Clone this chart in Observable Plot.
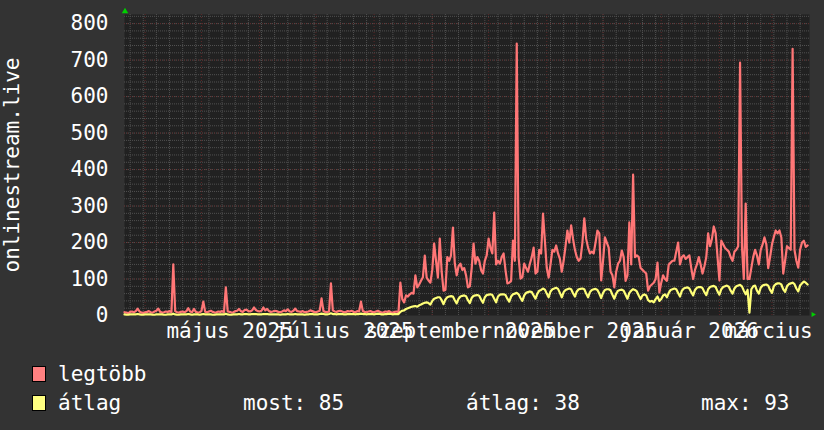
<!DOCTYPE html>
<html>
<head>
<meta charset="utf-8">
<script src="https://cdn.jsdelivr.net/npm/d3@7"></script>
<script src="https://cdn.jsdelivr.net/npm/@observablehq/plot@0.6"></script>
<style>
html, body { margin: 0; padding: 0; background: #333333; overflow: hidden; }
#chart { width: 824px; }
svg { display: block; }
</style>
</head>
<body>
<div id="chart"></div>
<script>
// ---- data (daily values, first day = startDate) ----
const startDate = "2025-03-21";
const endDate = "2026-03-21";
const seriesNames = ["legtöbb", "átlag"];
const seriesColors = ["#ff7676", "#ffff78"];
const swatchColors = ["#ff8080", "#ffff80"];

const legtobb = [
  9, 8, 6, 10, 11, 9, 12, 19, 11, 8,
  7, 9, 10, 12, 9, 8, 11, 13, 19, 10,
  8, 9, 11, 10, 12, 9, 140, 12, 9, 8,
  10, 11, 9, 12, 20, 11, 9, 18, 10, 8,
  9, 12, 38, 10, 9, 11, 13, 10, 8, 9,
  11, 10, 12, 9, 77, 11, 10, 8, 9, 12,
  13, 18, 12, 10, 15, 16, 12, 11, 14, 22,
  15, 12, 11, 13, 22, 14, 18, 12, 10, 11,
  13, 12, 10, 9, 11, 14, 12, 17, 11, 10,
  13, 19, 12, 11, 10, 12, 9, 10, 11, 14,
  12, 10, 9, 11, 13, 47, 12, 10, 9, 11,
  88, 14, 11, 10, 12, 13, 11, 9, 10, 12,
  11, 13, 10, 9, 12, 11, 38, 12, 10, 9,
  11, 12, 10, 9, 11, 13, 10, 8, 9, 11,
  10, 12, 9, 8, 10, 11, 9,
  90, 45, 36, 55, 52, 58, 62, 60, 110, 77,
  85, 95, 105, 164, 104, 96, 90, 125, 197, 150,
  104, 211, 120, 68, 70, 160, 150, 165, 241, 142,
  110, 135, 142, 125, 130, 110, 77, 80, 130, 197,
  142, 160, 150, 125, 115, 150, 165, 211, 185, 170,
  282, 140, 150, 142, 160, 170, 125, 88, 90, 95,
  205, 150, 745, 160, 101, 105, 142, 130, 120, 142,
  160, 186, 115, 120, 180, 170, 279, 205, 130, 104,
  140, 180, 175, 192, 170, 155, 120, 150, 190, 233,
  200, 247, 210, 180, 160, 150, 156, 200, 266, 210,
  186, 170, 175, 170, 200, 233, 225, 96, 150, 214,
  200, 186, 120, 110, 77, 120, 142, 150, 178, 160,
  95, 110, 255, 140, 386, 160, 165, 160, 130, 125,
  120, 115, 68, 80, 85, 90, 100, 145, 63, 90,
  110, 100, 95, 140, 145, 150, 150, 175, 200, 140,
  160, 165, 155, 160, 165, 130, 100, 125, 140, 160,
  140, 115, 135, 160, 225, 190, 210, 244, 225, 160,
  96, 205, 195, 185, 180, 175, 160, 150, 175, 180,
  190, 693, 190, 100, 307, 100, 100, 130, 160, 180,
  165, 140, 180, 195, 214, 195, 130, 160, 195, 215,
  233, 225, 233, 214, 115, 150, 190, 185, 180, 731,
  180, 150, 131, 180, 200, 205, 188, 192
];

const atlag = [
  3, 2, 2, 3, 3, 3, 3, 4, 3, 2,
  2, 3, 3, 3, 3, 2, 2, 3, 3, 3,
  3, 2, 2, 3, 3, 3, 5, 3, 2, 2,
  3, 3, 3, 3, 4, 3, 2, 3, 3, 3,
  2, 3, 4, 3, 3, 3, 3, 2, 2, 3,
  3, 3, 3, 3, 5, 3, 2, 2, 3, 3,
  3, 4, 3, 3, 4, 4, 3, 3, 4, 4,
  4, 3, 3, 3, 4, 4, 4, 3, 3, 3,
  3, 3, 3, 2, 3, 3, 3, 4, 3, 3,
  3, 4, 3, 3, 3, 3, 2, 3, 3, 4,
  4, 3, 3, 3, 4, 5, 4, 3, 3, 4,
  6, 4, 4, 3, 4, 4, 4, 3, 3, 4,
  4, 4, 4, 3, 4, 4, 5, 4, 4, 3,
  4, 4, 4, 3, 4, 5, 4, 3, 3, 4,
  4, 5, 4, 3, 4, 4, 4,
  10, 13, 14, 18, 20, 22, 24, 25, 26, 24,
  28, 30, 33, 35, 36, 34, 30, 40, 46, 48,
  50, 50, 42, 31, 44, 50, 52, 53, 52, 42,
  33, 46, 52, 54, 55, 53, 42, 34, 48, 54,
  55, 56, 54, 44, 35, 50, 56, 57, 58, 56,
  46, 36, 52, 57, 58, 58, 56, 46, 38, 52,
  58, 60, 62, 58, 48, 40, 55, 62, 64, 66,
  64, 55, 46, 60, 68, 70, 74, 71, 60, 50,
  66, 72, 74, 76, 73, 62, 50, 64, 70, 72,
  74, 72, 61, 52, 66, 72, 73, 74, 72, 60,
  50, 64, 70, 72, 73, 70, 60, 48, 62, 70,
  72, 72, 69, 57, 46, 60, 68, 70, 71, 68,
  57, 46, 62, 68, 72, 70, 66, 55, 45, 55,
  58, 55, 42, 38, 40, 36, 45, 52, 40, 45,
  55, 58, 50, 62, 70, 72, 74, 72, 62, 52,
  68, 74, 76, 77, 74, 64, 55, 70, 76, 78,
  78, 75, 64, 56, 72, 78, 80, 81, 78, 66,
  57, 72, 78, 80, 82, 79, 68, 60, 74, 80,
  82, 84, 80, 68, 58, 70, 8, 72, 80, 82,
  68, 60, 76, 82, 84, 85, 82, 70, 62, 80,
  86, 88, 88, 85, 72, 65, 80, 86, 88, 90,
  86, 74, 66, 82, 88, 93, 90, 85
];

const yTicks = [0, 100, 200, 300, 400, 500, 600, 700, 800];
const yMax = 825;
const xTickDates = ["2025-05-16", "2025-07-16", "2025-09-16", "2025-11-16", "2026-01-16", "2026-03-16"];
const xTickLabels = ["május 2025", "július 2025", "szeptember 2025", "november 2025", "január 2026", "március 2026"];
const yTitle = "onlinestream.live";
const statLabels = ["most: 85", "átlag: 38", "max: 93"];

// ---- build ----
const t0 = new Date(startDate + "T00:00:00Z");
const t1 = new Date(endDate + "T00:00:00Z");
const toRows = (arr, name) => arr.map((v, i) => ({date: d3.utcDay.offset(t0, i), value: v, series: name}));
const rowsMax = toRows(legtobb, seriesNames[0]);
const rowsAvg = toRows(atlag, seriesNames[1]);
const tickDates = xTickDates.map(s => new Date(s + "T00:00:00Z"));
const labelByTime = new Map(tickDates.map((d, i) => [+d, xTickLabels[i]]));

const FONT = "'DejaVu Sans Mono', monospace";
const rightArrow = {
  draw(ctx, size) {
    const r = Math.sqrt(size / 3);
    ctx.moveTo(r, 0);
    ctx.lineTo(-r * 0.8, -r);
    ctx.lineTo(-r * 0.8, r);
    ctx.closePath();
  }
};

const plot = Plot.plot({
  width: 824,
  height: 350,
  marginLeft: 124,
  marginRight: 15,
  marginTop: 14,
  marginBottom: 35,
  style: {background: "#333333", color: "#ffffff", fontFamily: FONT, fontSize: "21px"},
  x: {type: "utc", domain: [t0, t1]},
  y: {domain: [0, yMax]},
  marks: [
    Plot.frame({fill: "#212121", stroke: "none"}),
    Plot.gridY({ticks: d3.range(20, yMax, 20), stroke: "#505050", strokeOpacity: 1, strokeDasharray: "1,1"}),
    Plot.gridX({ticks: d3.utcMonday.range(t0, t1), stroke: "#505050", strokeOpacity: 1, strokeDasharray: "1,1"}),
    Plot.gridY({ticks: yTicks.filter(v => v > 0), stroke: "#5c2828", strokeOpacity: 1, strokeDasharray: "1,2"}),
    Plot.gridX({ticks: d3.utcMonth.range(t0, t1), stroke: "#5c2828", strokeOpacity: 1, strokeDasharray: "1,2"}),
    Plot.line(rowsMax, {x: "date", y: "value", stroke: seriesColors[0], strokeWidth: 2.2}),
    Plot.line(rowsAvg, {x: "date", y: "value", stroke: seriesColors[1], strokeWidth: 2.2}),
    Plot.axisY({ticks: yTicks, tickSize: 0, tickPadding: 16, label: null, fill: "#ffffff"}),
    Plot.axisX({ticks: tickDates, tickFormat: d => labelByTime.get(+d), tickSize: 0, tickPadding: 8, label: null, fill: "#ffffff"}),
    Plot.text([yTitle], {frameAnchor: "left", text: d => d, rotate: -90, dx: -112, textAnchor: "middle", lineAnchor: "middle", fill: "#ffffff"}),
    Plot.dot([0], {frameAnchor: "top-left", symbol: "triangle", r: 2.4, fill: "#00d000", stroke: "none", dx: 0.5, dy: -3}),
    Plot.dot([0], {frameAnchor: "bottom-right", symbol: rightArrow, r: 2.4, fill: "#00d000", stroke: "none", dx: 4, dy: -1})
  ]
});
document.getElementById("chart").appendChild(plot);

// ---- legend below the plot ----
const leg = d3.create("svg")
  .attr("width", 824).attr("height", 80)
  .style("display", "block")
  .style("font-family", FONT).style("font-size", "21px");
const rowsY = [31, 60];
seriesNames.forEach((name, i) => {
  leg.append("rect").attr("x", 32.5).attr("y", rowsY[i] - 14.5).attr("width", 13).attr("height", 15)
    .attr("fill", swatchColors[i]).attr("stroke", "#000").attr("stroke-width", 1);
  leg.append("text").attr("x", 58).attr("y", rowsY[i]).attr("fill", "#ffffff").text(name);
});
const statX = [243, 466, 701];
statLabels.forEach((s, i) => {
  leg.append("text").attr("x", statX[i]).attr("y", rowsY[1]).attr("fill", "#ffffff").text(s);
});
document.getElementById("chart").appendChild(leg.node());
</script>
</body>
</html>
